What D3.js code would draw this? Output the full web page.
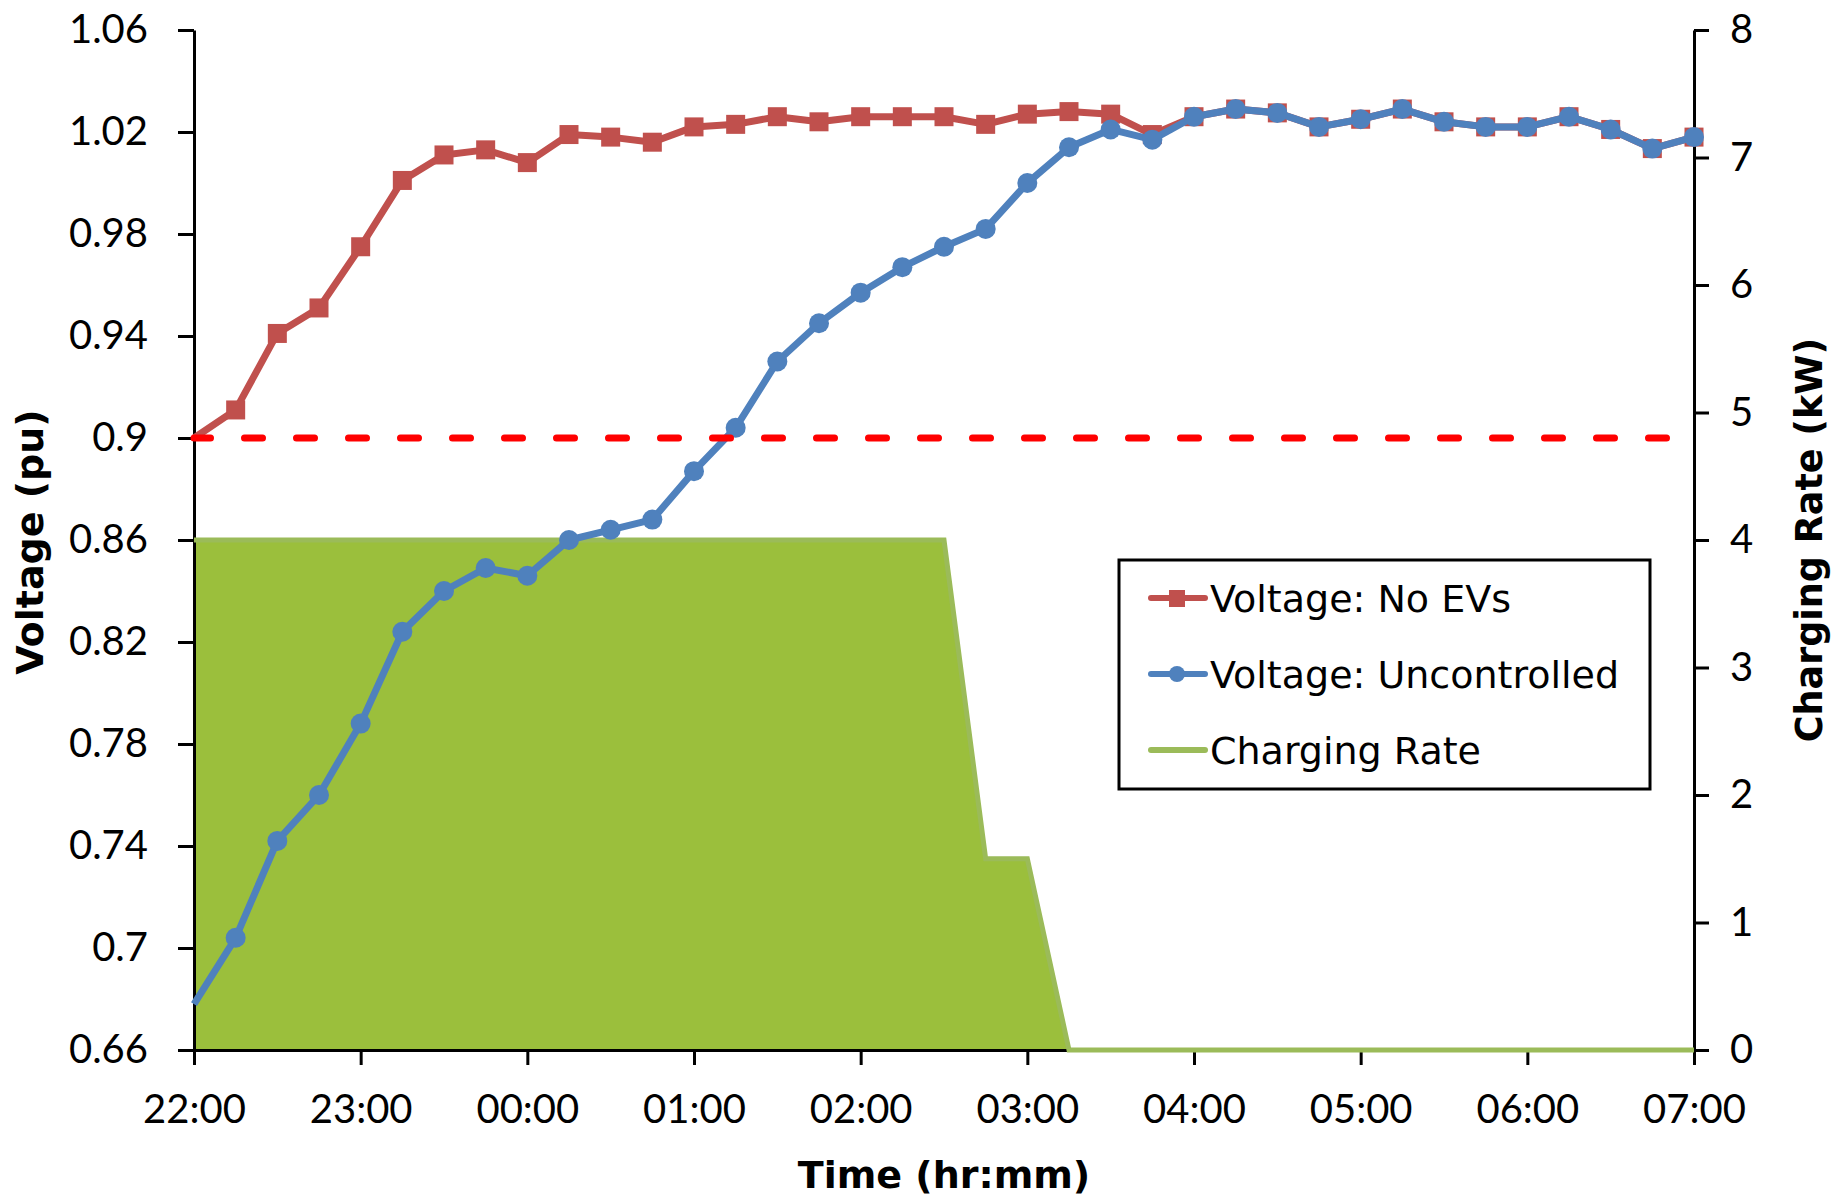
<!DOCTYPE html>
<html>
<head>
<meta charset="utf-8">
<script src="https://cdn.jsdelivr.net/npm/d3@7"></script>
<style>
  body { margin: 0; background: #fff; }
  svg { display: block; }
</style>
</head>
<body>
<svg></svg>
<script>
const width = 1832,
    height = 1200;

// 15-minute samples, 22:00 -> 07:00
const times = ["22:00", "22:15", "22:30", "22:45", "23:00", "23:15", "23:30", "23:45",
    "00:00", "00:15", "00:30", "00:45", "01:00", "01:15", "01:30", "01:45",
    "02:00", "02:15", "02:30", "02:45", "03:00", "03:15", "03:30", "03:45",
    "04:00", "04:15", "04:30", "04:45", "05:00", "05:15", "05:30", "05:45",
    "06:00", "06:15", "06:30", "06:45", "07:00"];

const voltNoEVs = [0.900, 0.911, 0.941, 0.951, 0.975, 1.001, 1.011, 1.013,
    1.008, 1.019, 1.018, 1.016, 1.022, 1.023, 1.026, 1.024,
    1.026, 1.026, 1.026, 1.023, 1.027, 1.028, 1.027, 1.019,
    1.026, 1.029, 1.0275, 1.022, 1.025, 1.029, 1.024, 1.022,
    1.022, 1.026, 1.021, 1.0135, 1.018];

const voltUncontrolled = [0.678, 0.704, 0.742, 0.760, 0.788, 0.824, 0.840, 0.849,
    0.846, 0.860, 0.864, 0.868, 0.887, 0.904, 0.930, 0.945,
    0.957, 0.967, 0.975, 0.982, 1.000, 1.014, 1.021, 1.017,
    1.026, 1.029, 1.0275, 1.022, 1.025, 1.029, 1.024, 1.022,
    1.022, 1.026, 1.021, 1.0135, 1.018];

const chargingRate = [4, 4, 4, 4, 4, 4, 4, 4,
    4, 4, 4, 4, 4, 4, 4, 4,
    4, 4, 4, 1.5, 1.5, 0, 0, 0,
    0, 0, 0, 0, 0, 0, 0, 0,
    0, 0, 0, 0, 0];

const hourTicks = ["22:00", "23:00", "00:00", "01:00", "02:00", "03:00", "04:00", "05:00", "06:00", "07:00"];
const voltTicks = [0.66, 0.70, 0.74, 0.78, 0.82, 0.86, 0.90, 0.94, 0.98, 1.02, 1.06];
const voltTickLabels = ["0.66", "0.7", "0.74", "0.78", "0.82", "0.86", "0.9", "0.94", "0.98", "1.02", "1.06"];
const rateTicks = [0, 1, 2, 3, 4, 5, 6, 7, 8];
const voltLimit = 0.9;
const legendLabels = ["Voltage: No EVs", "Voltage: Uncontrolled", "Charging Rate"];

const colors = {noEV: "#c0504d", unc: "#4f81bd", rateFill: "#9bbf3c", rateLine: "#9bbb59", limit: "#ff0000"};
const plot = {left: 194, right: 1694, top: 30, bottom: 1050};
const tickFont = "Lato, 'Open Sans', sans-serif";
const titleFont = "'DejaVu Sans', sans-serif";

// minutes after 22:00
function toMinutes(t) {
    const [h, m] = t.split(":").map(Number);
    return ((h + 2) % 24) * 60 + m;
}

const svg = d3.select("svg").attr("width", width).attr("height", height);

const x = d3.scaleLinear().domain([0, toMinutes("07:00")]).range([plot.left, plot.right]),
    yV = d3.scaleLinear().domain([0.66, 1.06]).range([plot.bottom, plot.top]),
    yR = d3.scaleLinear().domain([0, 8]).range([plot.bottom, plot.top]);

const rows = times.map((t, i) => ({
    t: toMinutes(t),
    noEV: voltNoEVs[i],
    unc: voltUncontrolled[i],
    rate: chargingRate[i]
}));

// charging rate area (secondary axis)
svg.append("path")
    .datum(rows)
    .attr("fill", colors.rateFill)
    .attr("d", d3.area().x(d => x(d.t)).y0(yR(0)).y1(d => yR(d.rate)));

// axes
function styleAxis(g) {
    g.select(".domain").attr("stroke", "#000").attr("stroke-width", 3);
    g.selectAll(".tick line").attr("stroke", "#000").attr("stroke-width", 3);
    g.selectAll(".tick text")
        .attr("fill", "#000")
        .attr("font-family", tickFont)
        .attr("font-size", 40);
    g.attr("font-family", null).attr("font-size", null);
}

const leftAxis = d3.axisLeft(yV)
    .tickValues(voltTicks)
    .tickFormat((d, i) => voltTickLabels[i])
    .tickSize(16).tickSizeOuter(0).tickPadding(30);

const rightAxis = d3.axisRight(yR)
    .tickValues(rateTicks)
    .tickSize(15).tickSizeOuter(0).tickPadding(21);

const bottomAxis = d3.axisBottom(x)
    .tickValues(hourTicks.map(toMinutes))
    .tickFormat((d, i) => hourTicks[i])
    .tickSize(15).tickSizeOuter(0);

svg.append("g").attr("transform", `translate(${plot.left},0)`).call(leftAxis).call(styleAxis);
svg.append("g").attr("transform", `translate(${plot.right},0)`).call(rightAxis).call(styleAxis);
svg.append("g").attr("transform", `translate(0,${plot.bottom})`).call(bottomAxis).call(styleAxis)
    .selectAll(".tick text").attr("y", 73).attr("dy", 0);

// charging rate outline on top of the axis
svg.append("path")
    .datum(rows)
    .attr("fill", "none")
    .attr("stroke", colors.rateLine)
    .attr("stroke-width", 5)
    .attr("d", d3.line().x(d => x(d.t)).y(d => yR(d.rate)));

// voltage series
const lineNoEV = d3.line().x(d => x(d.t)).y(d => yV(d.noEV)),
    lineUnc = d3.line().x(d => x(d.t)).y(d => yV(d.unc));

svg.append("path")
    .datum(rows)
    .attr("fill", "none")
    .attr("stroke", colors.noEV)
    .attr("stroke-width", 7)
    .attr("stroke-linejoin", "round")
    .attr("d", lineNoEV);

svg.append("g").selectAll("rect")
    .data(rows.slice(1))
    .enter().append("rect")
    .attr("x", d => x(d.t) - 9.5)
    .attr("y", d => yV(d.noEV) - 9.5)
    .attr("width", 19)
    .attr("height", 19)
    .attr("fill", colors.noEV);

svg.append("path")
    .datum(rows)
    .attr("fill", "none")
    .attr("stroke", colors.unc)
    .attr("stroke-width", 7)
    .attr("stroke-linejoin", "round")
    .attr("d", lineUnc);

svg.append("g").selectAll("circle")
    .data(rows.slice(1))
    .enter().append("circle")
    .attr("cx", d => x(d.t))
    .attr("cy", d => yV(d.unc))
    .attr("r", 10)
    .attr("fill", colors.unc);

// 0.9 pu limit
svg.append("line")
    .attr("x1", x(0)).attr("x2", x(toMinutes("07:00")))
    .attr("y1", yV(voltLimit)).attr("y2", yV(voltLimit))
    .attr("stroke", colors.limit)
    .attr("stroke-width", 7)
    .attr("stroke-linecap", "round")
    .attr("stroke-dasharray", "18,34")
    .attr("stroke-dashoffset", 1.5);

// axis titles
svg.append("text")
    .attr("x", (plot.left + plot.right) / 2)
    .attr("y", 1188)
    .attr("text-anchor", "middle")
    .attr("font-family", titleFont)
    .attr("font-weight", "bold")
    .attr("font-size", 38)
    .text("Time (hr:mm)");

svg.append("text")
    .attr("transform", "translate(43,542) rotate(-90)")
    .attr("text-anchor", "middle")
    .attr("font-family", titleFont)
    .attr("font-weight", "bold")
    .attr("font-size", 38)
    .text("Voltage (pu)");

svg.append("text")
    .attr("transform", "translate(1822,540) rotate(-90)")
    .attr("text-anchor", "middle")
    .attr("font-family", titleFont)
    .attr("font-weight", "bold")
    .attr("font-size", 36.5)
    .text("Charging Rate (kW)");

// legend
const legend = svg.append("g").attr("transform", "translate(1119,560)");
legend.append("rect")
    .attr("width", 531).attr("height", 229)
    .attr("fill", "#fff")
    .attr("stroke", "#000")
    .attr("stroke-width", 3);

const legendColors = [colors.noEV, colors.unc, colors.rateLine];
const item = legend.selectAll("g.item")
    .data(legendLabels)
    .enter().append("g")
    .classed("item", true)
    .attr("transform", (d, i) => `translate(0,${38 + i * 76})`);

item.append("line")
    .attr("x1", 32).attr("x2", 86)
    .attr("stroke", (d, i) => legendColors[i])
    .attr("stroke-width", 6)
    .attr("stroke-linecap", "round");

item.filter((d, i) => i === 0).append("rect")
    .attr("x", 50).attr("y", -8).attr("width", 16).attr("height", 17)
    .attr("fill", colors.noEV);
item.filter((d, i) => i === 1).append("circle")
    .attr("cx", 58).attr("r", 8)
    .attr("fill", colors.unc);

item.append("text")
    .attr("x", 91)
    .attr("y", 13.5)
    .attr("font-family", titleFont)
    .attr("font-size", 38)
    .attr("fill", "#000")
    .text(d => d);
</script>
</body>
</html>
